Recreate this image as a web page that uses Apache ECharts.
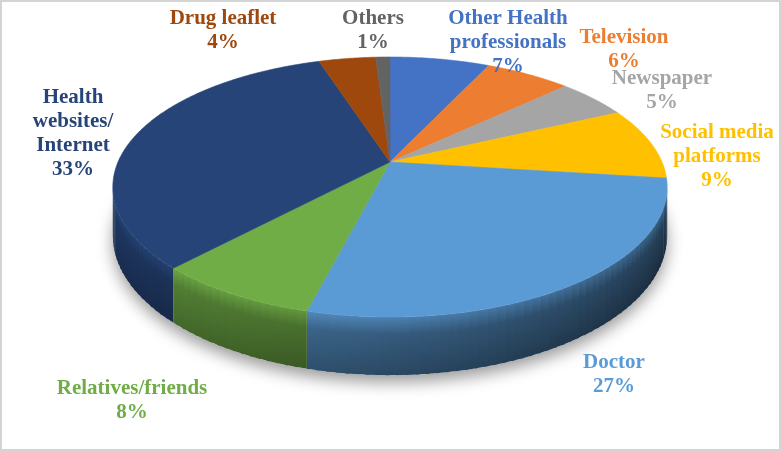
<!DOCTYPE html>
<html>
<head>
<meta charset="utf-8">
<script src="https://cdn.jsdelivr.net/npm/echarts@6/dist/echarts.min.js"></script>
<style>
  html, body { margin: 0; padding: 0; background: #fff; }
  #chart { width: 781px; height: 451px; }
</style>
</head>
<body>
<div id="chart"></div>
<script>
// data
const categories = ['Other Health\nprofessionals', 'Television', 'Newspaper', 'Social media\nplatforms',
  'Doctor', 'Relatives/friends', 'Health\nwebsites/\nInternet', 'Drug leaflet', 'Others']
const shares = [7, 6, 5, 9, 27, 8, 33, 4, 1]

// style
const colors = ['#4472C4', '#ED7D31', '#A5A5A5', '#FFC000', '#5B9BD5', '#70AD47', '#264478', '#9E480E', '#636363']
const labelPos = [[508, 43], [624, 50], [662, 91], [717, 157], [614, 375], [132, 401], [73, 134], [223, 31], [373, 31]]

// 3d pie geometry (perspective disc)
const CX = 390, CY = 162, A = 125.2, B = 272, K = 0.1923, DEPTH = 47
const TAU = Math.PI * 2
const total = shares.reduce((a, b) => a + b, 0)
const startAt = []
shares.reduce((acc, v, i) => { startAt[i] = acc; return acc + v }, 0)

function proj(phi, d) {
  const u = Math.sin(phi), v = -Math.cos(phi), w = 1 - K * v
  return [CX + B * u / w, CY + (A * v + d) / w]
}
function shade(hex, f) {
  const n = parseInt(hex.slice(1), 16)
  const c = [(n >> 16) & 255, (n >> 8) & 255, n & 255].map(x => Math.max(0, Math.min(255, Math.round(x * f))))
  return 'rgb(' + c.join(',') + ')'
}

const visLo = Math.acos(-K), visHi = TAU - Math.acos(-K)

function renderItem(params, api) {
  const i = params.dataIndex
  const val = api.value(0)
  const a0 = startAt[i] / total * TAU
  const a1 = (startAt[i] + val) / total * TAU
  const color = colors[i]
  const children = []

  // soft shadow under the whole pie
  if (i === 0) {
    const pts = []
    for (let p = 0; p <= TAU + 0.001; p += 0.02) pts.push(proj(p, DEPTH))
    children.push({
      type: 'polygon', z2: 0, shape: { points: pts },
      style: { fill: '#fff', shadowBlur: 16, shadowColor: 'rgba(0,0,0,0.4)', shadowOffsetY: 7 }
    })
  }

  // outer side wall (only the part facing the viewer)
  const s0 = Math.max(a0, visLo), s1 = Math.min(a1, visHi)
  if (s1 > s0) {
    const step = 0.03
    for (let s = s0; s < s1; s += step) {
      const e = Math.min(s + step + 0.01, s1)
      const fh = 0.54 - 0.2 * Math.sin((s + e) / 2)
      children.push({
        type: 'polygon', z2: 2,
        shape: { points: [proj(s, 0), proj(e, 0), proj(e, DEPTH), proj(s, DEPTH)] },
        style: {
          fill: new echarts.graphic.LinearGradient(0, 0, 0, 1, [
            { offset: 0, color: shade(color, Math.min(1, fh + 0.3)) },
            { offset: 0.3, color: shade(color, fh + 0.05) },
            { offset: 1, color: shade(color, fh - 0.08) }
          ])
        }
      })
    }
  }

  // top face
  const top = [[CX, CY]]
  for (let p = a0; p < a1; p += 0.01) top.push(proj(p, 0))
  top.push(proj(a1, 0))
  children.push({
    type: 'polygon', z2: 5, shape: { points: top },
    style: { fill: color, stroke: color, lineWidth: 0.6 }
  })

  return { type: 'group', children }
}

// labels: name + share, placed like the original
const labels = shares.map((v, i) => ({
  type: 'text', silent: true, z: 10,
  x: labelPos[i][0], y: labelPos[i][1],
  style: {
    text: categories[i] + '\n' + v + '%',
    align: 'center', verticalAlign: 'middle',
    fontFamily: 'Liberation Serif', fontWeight: 'bold', fontSize: 21,
    lineHeight: 24,
    fill: colors[i]
  }
}))

const chart = echarts.init(document.getElementById('chart'))
chart.setOption({
  animation: false,
  backgroundColor: '#fff',
  graphic: [{
    type: 'rect', silent: true, z: -1,
    shape: { x: 1, y: 1, width: 779, height: 449 },
    style: { fill: 'none', stroke: '#d4d4d4', lineWidth: 2 }
  }].concat(labels),
  series: [{
    type: 'custom',
    coordinateSystem: 'none',
    renderItem: renderItem,
    data: shares.map(v => [v])
  }]
})
</script>
</body>
</html>
